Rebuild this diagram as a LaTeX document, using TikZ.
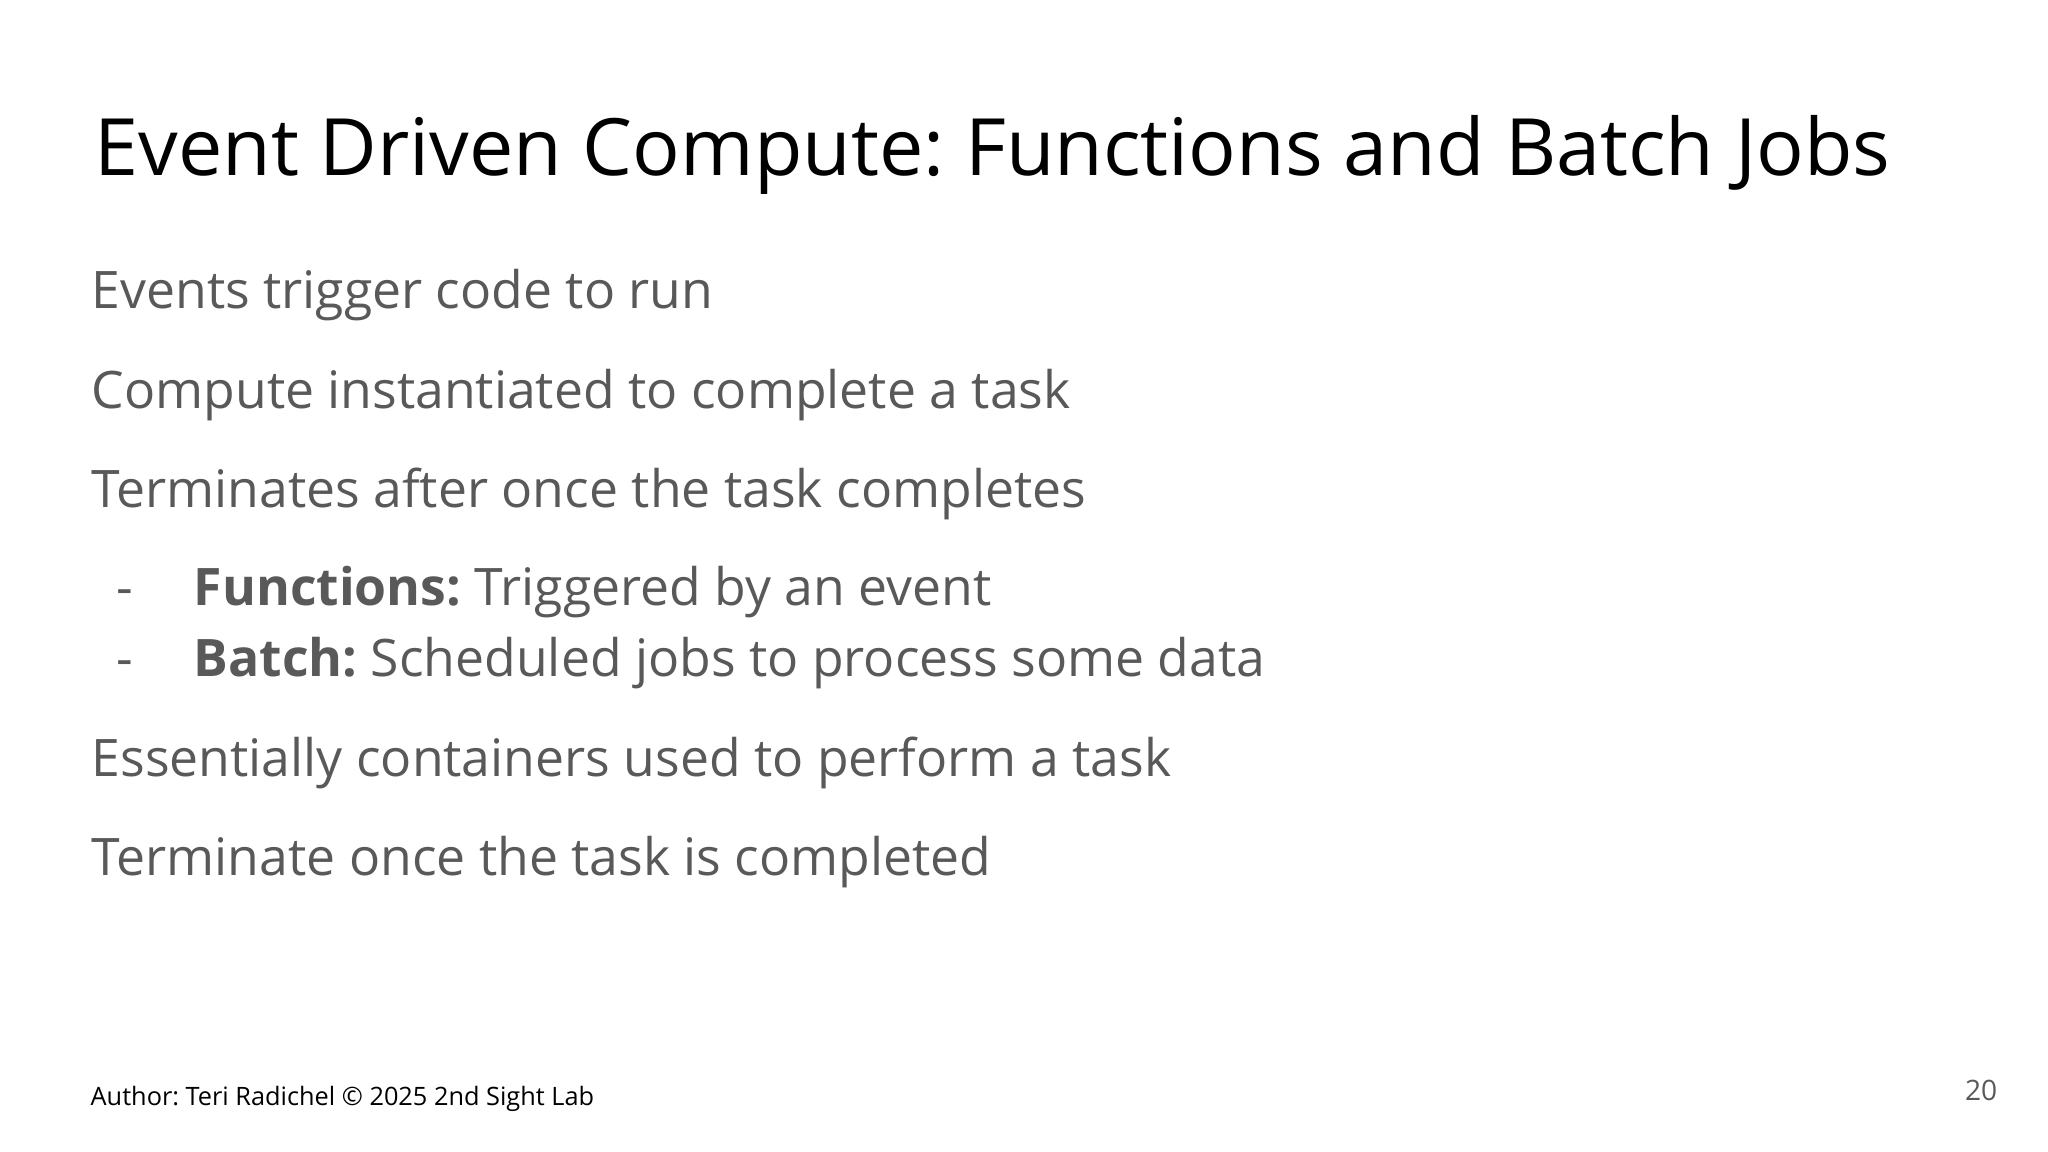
\documentclass[tikz,border=0pt]{standalone}
\usepackage{fontspec}
\setmainfont{Open Sans}
\frenchspacing
\definecolor{bodygray}{HTML}{595959}
\begin{document}
\begin{tikzpicture}[x=0.01cm,y=-0.01cm,
  txt/.style={anchor=base west,inner sep=0pt,text=bodygray,font=\fontsize{14.7}{18}\selectfont},
  ttl/.style={anchor=base west,inner sep=0pt,text=black,font=\fontsize{22.5}{27}\selectfont},
  foot/.style={anchor=base west,inner sep=0pt,text=black,font=\fontsize{7.2}{9}\selectfont}]
\useasboundingbox (0,0) rectangle (2048,1152);
\node[ttl] (title) at (94,176) {Event Driven Compute: Functions and Batch Jobs};
\node[txt] (l1) at (91,309) {Events trigger code to run};
\node[txt] (l2) at (91,409) {Compute instantiated to complete a task};
\node[txt] (l3) at (91,508) {Terminates after once the task completes};
\node[txt] (d1) at (116,606) {-};
\node[txt] (b1) at (193,606) {\textbf{Functions:} Triggered by an event};
\node[txt] (d2) at (116,676) {-};
\node[txt] (b2) at (193,676) {\textbf{Batch:} Scheduled jobs to process some data};
\node[txt] (l4) at (91,776) {Essentially containers used to perform a task};
\node[txt] (l5) at (91,875) {Terminate once the task is completed};
\node[foot] (author) at (90,1105) {Author: Teri Radichel © 2025 2nd Sight Lab};
\node[foot,anchor=base east,text=bodygray,font=\fontsize{8}{10}\selectfont] (page) at (1998,1100) {20};
\end{tikzpicture}
\end{document}
